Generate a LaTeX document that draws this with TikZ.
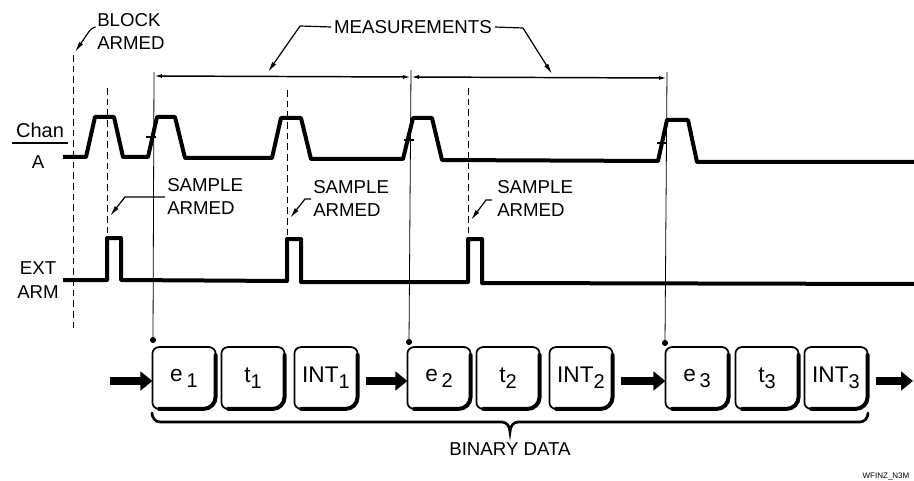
\documentclass[tikz,border=0pt]{standalone}
\usepackage{fontspec}
\setmainfont{Liberation Sans}
\usetikzlibrary{arrows.meta}
\newcommand\sbx[1]{\raisebox{-4.5pt}{\fontsize{15pt}{15pt}\selectfont #1}}
\begin{document}
\begin{tikzpicture}[x=0.75pt,y=-0.75pt,
  sig/.style={line width=3pt, line join=round},
  dashv/.style={line width=0.7pt, dash pattern=on 5pt off 3pt},
  extl/.style={line width=0.6pt},
  dim/.style={line width=1.1pt, {Latex[length=6pt,width=3pt]}-{Latex[length=6pt,width=3pt]}},
  leader/.style={line width=0.9pt, -{Latex[length=8pt,width=3.5pt]}},
  lbl/.style={inner sep=0pt, font=\fontsize{14pt}{16pt}\selectfont},
  regbox/.style={minimum width=47pt, minimum height=46pt, inner sep=0pt, font=\fontsize{17pt}{18pt}\selectfont},
  flow/.style={line width=6pt, -{Triangle[length=9pt,width=14pt]}},
]
\useasboundingbox (0,0) rectangle (914,481);

% ---- dashed arming lines
\draw[dashv] (73,55) -- (73,330);
\draw[dashv] (107,88) -- (107,236);
\draw[dashv] (287,90) -- (287,236);
\draw[dashv] (468,88) -- (468,236);

% ---- measurement extension lines and dots
\coordinate (m1) at (153,340);
\coordinate (m2) at (409,342);
\coordinate (m3) at (665,343);
\draw[extl] (154,72) -- (m1);
\draw[extl] (411,70) -- (m2);
\draw[extl] (667,72) -- (m3);
\fill (m1) circle (2.3pt);
\fill (m2) circle (2.3pt);
\fill (m3) circle (2.3pt);

% ---- dimension line
\coordinate (d1) at (154,76);
\coordinate (d2) at (411,77);
\coordinate (d3) at (667,78);
\draw[dim] (d1) -- (d2);
\draw[dim] (d2) -- (d3);

% ---- Chan A trace
\draw[sig] (63,157) -- (86,157) -- (95,117) -- (114,117) -- (123,157) -- (148,157)
  -- (157,117) -- (175,117) -- (185,158) -- (272,158) -- (281,118) -- (301,118)
  -- (311,159) -- (403,159) -- (413,118) -- (432,118) -- (442,160) -- (658,161)
  -- (667,120) -- (688,120) -- (697,162) -- (914,162);
% crossing ticks
\draw[line width=1pt] (146,137) -- (156,137);
\draw[line width=1pt] (404,140) -- (414,140);
\draw[line width=1pt] (657,143) -- (667,143);

% ---- EXT ARM trace
\draw[sig] (63,280) -- (107,280) -- (107,238) -- (121,238) -- (121,280) -- (287,281)
  -- (287,239) -- (301,239) -- (301,282) -- (468,282) -- (468,239) -- (482,239)
  -- (482,283) -- (914,284);

% ---- labels
\node[lbl, anchor=west] (blk1) at (97,20) {BLOCK};
\node[lbl, anchor=west] (blk2) at (97,43) {ARMED};
\node[lbl] (meas) at (413,27) {MEASUREMENTS};
\node[lbl, font=\fontsize{15pt}{16pt}\selectfont] (chan) at (40,130) {Chan};
\draw[line width=1pt] (12,143) -- (68,143);
\node[lbl] (chA) at (38,162) {A};
\node[lbl] (ext1) at (38,268) {EXT};
\node[lbl] (ext2) at (38,292) {ARM};
\node[lbl, anchor=west] (sa1) at (167,185) {SAMPLE};
\node[lbl, anchor=west] (sb1) at (167,208) {ARMED};
\node[lbl, anchor=west] (sa2) at (313,187) {SAMPLE};
\node[lbl, anchor=west] (sb2) at (313,210) {ARMED};
\node[lbl, anchor=west] (sa3) at (497,187) {SAMPLE};
\node[lbl, anchor=west] (sb3) at (497,210) {ARMED};
\node[lbl] (bin) at (510,449) {BINARY DATA};
\node[inner sep=0pt, font=\fontsize{6pt}{7pt}\selectfont] (fig) at (886,476) {WFINZ\_N3M};

% ---- leaders
\draw[leader] ([xshift=-1pt]blk1.south west) to[bend right=20] (88,33) -- (75,52);
\draw[leader] ([xshift=-2pt]meas.west) -- (300,26) -- (268,72);
\draw[leader] ([xshift=2pt]meas.east) -- (523,28) -- (552,74);
\draw[leader] (165,197) -- (125,197) -- (110,216);
\draw[leader] (311,199) -- (305,199) -- (290,218);
\draw[leader] (492,200) -- (486,200) -- (471,220);

% ---- register boxes
\foreach \n/\x/\t in {e1/184/{e\,\sbx{1}}, t1/253/{t\sbx{1}}, i1/326/{INT\sbx{1}},
                      e2/439/{e\,\sbx{2}}, t2/508/{t\sbx{2}}, i2/581/{INT\sbx{2}},
                      e3/697/{e\,\sbx{3}}, t3/767/{t\sbx{3}}, i3/836/{INT\sbx{3}}}
{
  \node[regbox] (\n) at (\x,378) {\t};
  \draw[line width=1.3pt, rounded corners=5pt] (\n.east) -- (\n.north east) -- (\n.north west) -- (\n.south west) -- (\n.south);
  \draw[line width=3pt, rounded corners=9pt, line cap=round] ([xshift=5pt]\n.south west) -- (\n.south east) -- ([yshift=-6pt]\n.north east);
}

% ---- flow arrows
\coordinate (fin) at (110,381);
\coordinate (fout) at (913,381);
\draw[flow] (fin) -- (e1.west |- fin);
\draw[flow, shorten <=6pt] (i1.east |- fin) -- (e2.west |- fin);
\draw[flow, shorten <=6pt] (i2.east |- fin) -- (e3.west |- fin);
\draw[flow, shorten <=6pt] (i3.east |- fin) -- (fout);

% ---- brace
\draw[line width=2pt, line cap=round] (152,413) to[out=-90,in=180] (160,422) -- (502,422)
  to[out=0,in=90] (510,432) to[out=90,in=180] (518,422) -- (860,422) to[out=0,in=-90] (868,413);
\end{tikzpicture}
\end{document}
